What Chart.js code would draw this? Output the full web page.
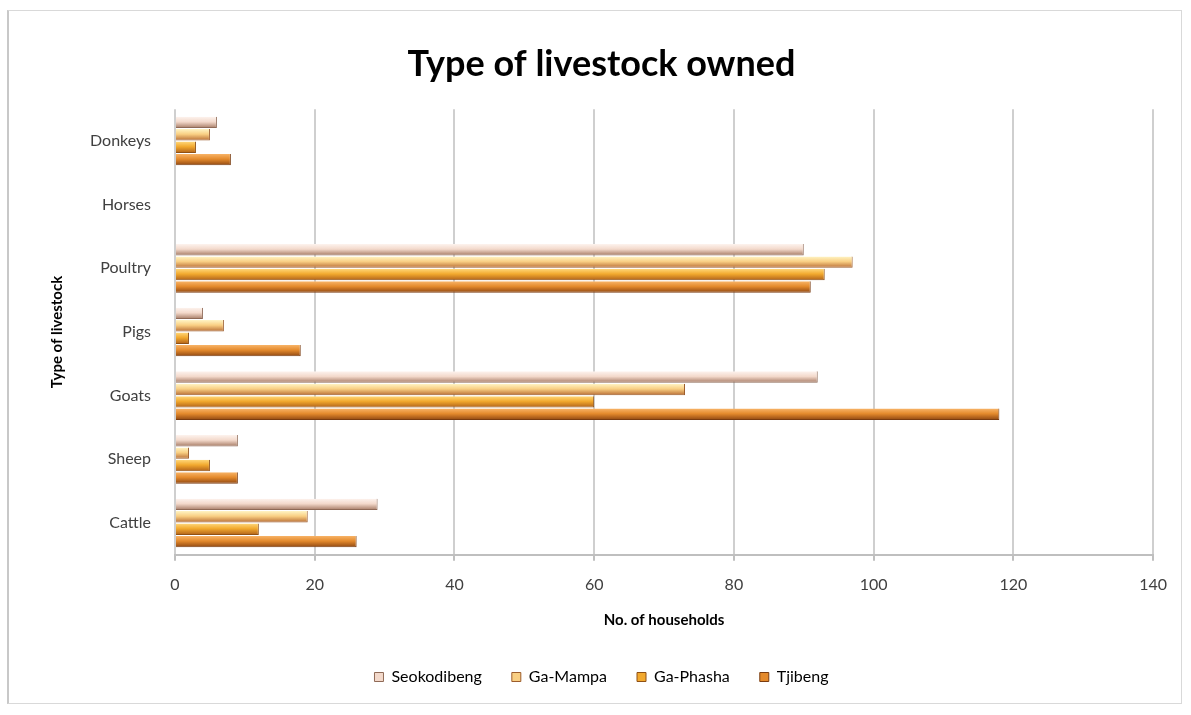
<!DOCTYPE html>
<html>
<head>
<meta charset="utf-8">
<title>Type of livestock owned</title>
<script src="https://cdn.jsdelivr.net/npm/chart.js@4"></script>
<style>
  html, body { margin: 0; padding: 0; background: #fff; }
  #cadre {
    position: absolute; left: 7px; top: 10px; width: 1175px; height: 694px;
    border: 1px solid #d9d9d9; border-left: 2px solid #c8c8c8; box-sizing: border-box;
  }
  canvas { display: block; }
</style>
</head>
<body>
<div id="cadre"><canvas id="graphique"></canvas></div>
<script>
// === DONNEES ===
const categories = ["Donkeys", "Horses", "Poultry", "Pigs", "Goats", "Sheep", "Cattle"];
const seokodibeng = [6, 0, 90, 4, 92, 9, 29];
const gaMampa     = [5, 0, 97, 7, 73, 2, 19];
const gaPhasha    = [3, 0, 93, 2, 60, 5, 12];
const tjibeng     = [8, 0, 91, 18, 118, 9, 26];
const xTicks = [0, 20, 40, 60, 80, 100, 120, 140];

const police = "Lato, 'Open Sans', 'DejaVu Sans', sans-serif";

const series = [
  { label: "Seokodibeng", data: seokodibeng, couleurs: ["#fdf3ee", "#f3d9cb", "#a57a64"], bord: "#8f6a57" },
  { label: "Ga-Mampa",    data: gaMampa,     couleurs: ["#fff4c4", "#f9cf83", "#b86d35"], bord: "#9c5d2c" },
  { label: "Ga-Phasha",   data: gaPhasha,    couleurs: ["#ffd77a", "#f2a92e", "#b0611a"], bord: "#8f5014" },
  { label: "Tjibeng",     data: tjibeng,     couleurs: ["#f8b468", "#e48a2c", "#8f4712"], bord: "#7a3c10" }
];

// === EFFET 3D : dégradé dans l'épaisseur de chaque barre ===
// les options sont partagées entre barres, on donne une copie à chacune
const degradeBarres = {
  id: "degradeBarres",
  beforeDatasetsDraw(chart) {
    const c = chart.ctx;
    chart.data.datasets.forEach((ds, i) => {
      const coul = series[i].couleurs;
      chart.getDatasetMeta(i).data.forEach(el => {
        const h = el.height;
        if (!h) return;
        const g = c.createLinearGradient(0, el.y - h / 2, 0, el.y + h / 2);
        g.addColorStop(0, coul[0]);
        g.addColorStop(0.45, coul[1]);
        g.addColorStop(1, coul[2]);
        el.options = Object.assign({}, el.options, { backgroundColor: g });
      });
    });
  }
};

const chart = new Chart(document.getElementById("graphique"), {
  type: "bar",
  data: {
    labels: categories,
    datasets: series.map(s => ({
      label: s.label,
      data: s.data,
      backgroundColor: s.couleurs[1],
      borderColor: s.bord,
      borderWidth: { top: 0, left: 0, right: 1, bottom: 1 },
      categoryPercentage: 0.78,
      barPercentage: 0.92
    }))
  },
  plugins: [degradeBarres],
  options: {
    indexAxis: "y",
    responsive: true,
    maintainAspectRatio: false,
    animation: false,
    layout: { padding: { left: 35, right: 22, top: 20, bottom: 8 } },
    plugins: {
      title: {
        display: true,
        text: "Type of livestock owned",
        color: "#000",
        font: { family: police, size: 36, weight: "bold" },
        padding: { top: 12, bottom: 23 }
      },
      legend: {
        position: "bottom",
        labels: {
          color: "#404040",
          font: { family: police, size: 16 },
          boxWidth: 9,
          boxHeight: 9,
          padding: 30,
          generateLabels: c => series.map((s, i) => ({
            text: s.label,
            fillStyle: s.couleurs[1],
            strokeStyle: s.bord,
            lineWidth: 1,
            datasetIndex: i
          }))
        }
      },
      tooltip: { enabled: false }
    },
    scales: {
      x: {
        min: 0,
        max: 140,
        afterBuildTicks: axe => { axe.ticks = xTicks.map(v => ({ value: v })); },
        grid: { color: "#cfcfcf", lineWidth: 2, drawTicks: true, tickLength: 6, tickColor: "#bfbfbf" },
        border: { color: "#bfbfbf", width: 2 },
        ticks: { color: "#404040", font: { family: police, size: 16 }, padding: 14 },
        title: {
          display: true,
          text: "No. of households",
          color: "#000",
          font: { family: police, size: 15, weight: "bold" },
          padding: { top: 3, bottom: 10 }
        }
      },
      y: {
        grid: { display: false },
        border: { display: false },
        ticks: { color: "#404040", font: { family: police, size: 16 }, padding: 16 },
        title: {
          display: true,
          text: "Type of livestock",
          color: "#000",
          font: { family: police, size: 15, weight: "bold" },
          padding: { bottom: 8 }
        }
      }
    }
  }
});
</script>
</body>
</html>
